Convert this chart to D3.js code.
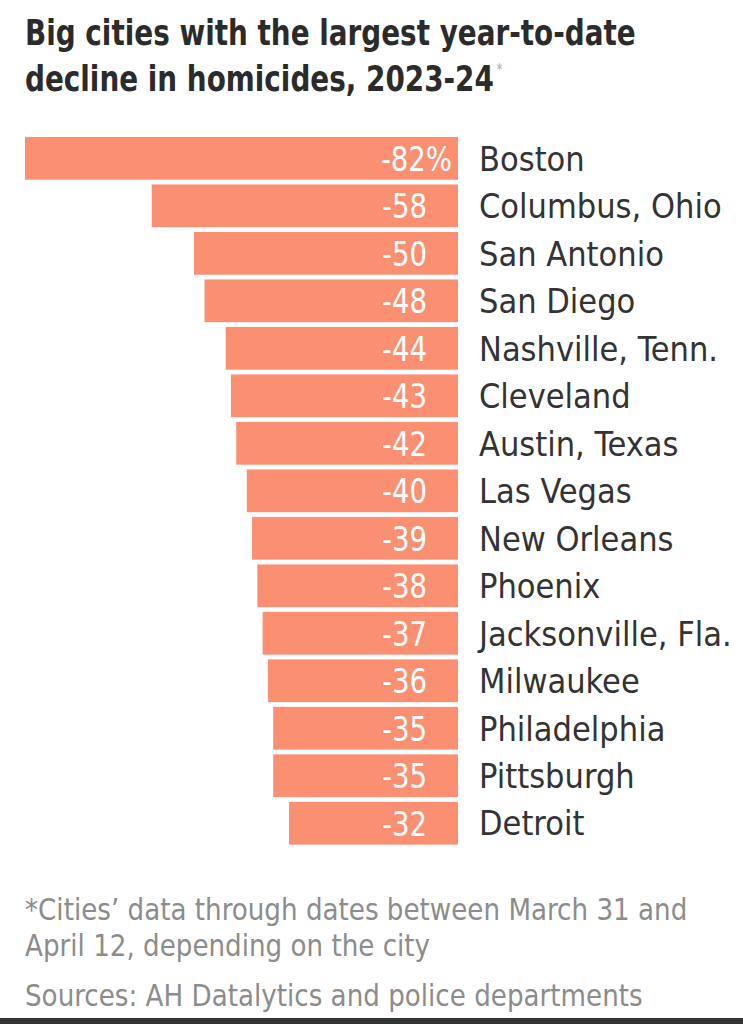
<!DOCTYPE html>
<html>
<head>
<meta charset="utf-8">
<script src="https://cdn.jsdelivr.net/npm/d3@7"></script>
<style>
  body { margin: 0; background: #fff; }
  svg { display: block; }
  .title { font-family: "DejaVu Sans Condensed", "DejaVu Sans", sans-serif; font-weight: bold; fill: #2b2b2b; }
  .city { font-family: "DejaVu Sans Condensed", "DejaVu Sans", sans-serif; fill: #333; }
  .val { font-family: "DejaVu Sans Condensed", "DejaVu Sans", sans-serif; fill: #fff; }
  .note { font-family: "DejaVu Sans Condensed", "DejaVu Sans", sans-serif; fill: #8c8c8c; }
</style>
</head>
<body>
<svg id="chart"></svg>
<script>
const width = 743;
const height = 1024;
const padding = { left: 25, top: 134.6, down: 177 };

// data
const cities = ['Boston', 'Columbus, Ohio', 'San Antonio', 'San Diego', 'Nashville, Tenn.', 'Cleveland',
  'Austin, Texas', 'Las Vegas', 'New Orleans', 'Phoenix', 'Jacksonville, Fla.', 'Milwaukee',
  'Philadelphia', 'Pittsburgh', 'Detroit'];
const change = [-82, -58, -50, -48, -44, -43, -42, -40, -39, -38, -37, -36, -35, -35, -32];
const titleLines = ['Big cities with the largest year-to-date', 'decline in homicides, 2023-24'];
const noteLines = ['*Cities\u2019 data through dates between March 31 and', 'April 12, depending on the city'];
const sourceLine = 'Sources: AH Datalytics and police departments';

const data = cities.map((c, i) => ({ city: c, value: change[i] }));

const svg = d3.select('#chart')
  .attr('width', width)
  .attr('height', height)
  .attr('viewBox', [0, 0, width, height]);

// x scale: value -> pixel, 0 at right edge of bars
const xScale = d3.scaleLinear()
  .domain([-82, 0])
  .range([padding.left, 458]);

const yScale = d3.scaleBand()
  .domain(cities)
  .range([padding.top, height - padding.down])
  .paddingInner(0.1)
  .paddingOuter(0.05);

// title (narrowed to match the condensed face)
const title = svg.append('g')
  .selectAll('text')
  .data(titleLines)
  .join('text')
  .attr('class', 'title')
  .attr('transform', (d, i) => `translate(25, ${45 + i * 46}) scale(0.86, 1)`)
  .style('font-size', '36px')
  .text(d => d);

// asterisk after the title
title.filter((d, i) => i === 1)
  .append('tspan')
  .attr('dx', 3)
  .attr('dy', -16)
  .style('font-size', '15px')
  .style('font-weight', 'normal')
  .style('fill', '#aaa')
  .text('*');

// bars
const rows = svg.append('g')
  .selectAll('.row')
  .data(data)
  .join('g')
  .attr('class', 'row');

rows.append('rect')
  .attr('x', d => xScale(d.value))
  .attr('y', d => yScale(d.city))
  .attr('width', d => xScale(0) - xScale(d.value))
  .attr('height', yScale.bandwidth())
  .attr('fill', '#fb8f72');

rows.append('text')
  .attr('class', 'val')
  .attr('transform', (d, i) => `translate(${i === 0 ? xScale(0) - 6 : xScale(0) - 31}, ${yScale(d.city) + yScale.bandwidth() / 2}) scale(0.9, 1)`)
  .attr('dy', '0.36em')
  .attr('text-anchor', 'end')
  .style('font-size', '34px')
  .text((d, i) => i === 0 ? d.value + '%' : d.value);

rows.append('text')
  .attr('class', 'city')
  .attr('x', xScale(0) + 21)
  .attr('y', d => yScale(d.city) + yScale.bandwidth() / 2)
  .attr('dy', '0.36em')
  .style('font-size', '34px')
  .text(d => d.city);

// footnote
svg.append('g')
  .selectAll('text')
  .data(noteLines)
  .join('text')
  .attr('class', 'note')
  .attr('transform', (d, i) => `translate(25, ${920 + i * 36}) scale(0.97, 1)`)
  .style('font-size', '30px')
  .text(d => d);

svg.append('text')
  .attr('class', 'note')
  .attr('transform', 'translate(25, 1006) scale(0.97, 1)')
  .style('font-size', '30px')
  .text(sourceLine);

// dark strip at the bottom edge
svg.append('rect')
  .attr('x', 0)
  .attr('y', 1018)
  .attr('width', width)
  .attr('height', 6)
  .attr('fill', '#333');
</script>
</body>
</html>
